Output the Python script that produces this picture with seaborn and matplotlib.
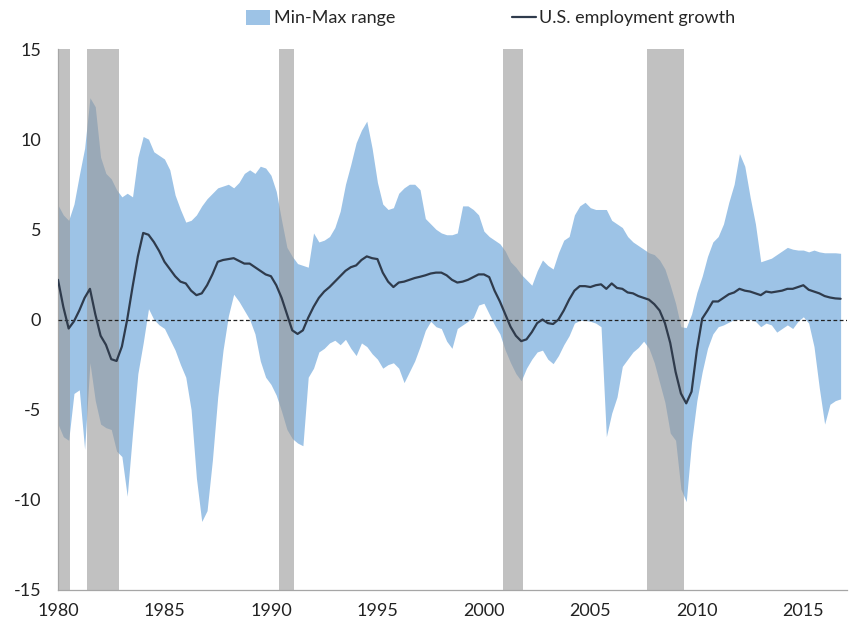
import numpy as np
import pandas as pd
import matplotlib
matplotlib.use("Agg")
import matplotlib.pyplot as plt
from matplotlib.patches import Patch
from matplotlib.lines import Line2D
from matplotlib.ticker import MultipleLocator
import seaborn as sns

# --------------------------
# Quarterly data, 1980Q1 - 2016Q4 (one row per year)
# --------------------------
us_growth = [
    2.2, 0.7, -0.5, -0.1,     # 1980
    0.5, 1.2, 1.7, 0.3,       # 1981
    -0.9, -1.4, -2.2, -2.3,   # 1982
    -1.5, 0.0, 1.8, 3.5,      # 1983
    4.8, 4.7, 4.3, 3.8,       # 1984
    3.2, 2.8, 2.4, 2.1,       # 1985
    2.0, 1.6, 1.35, 1.45,     # 1986
    1.9, 2.5, 3.2, 3.3,       # 1987
    3.35, 3.4, 3.25, 3.1,     # 1988
    3.1, 2.9, 2.7, 2.5,       # 1989
    2.4, 1.9, 1.2, 0.3,       # 1990
    -0.6, -0.8, -0.6, 0.1,    # 1991
    0.7, 1.2, 1.55, 1.8,      # 1992
    2.1, 2.4, 2.7, 2.9,       # 1993
    3.0, 3.3, 3.5, 3.4,       # 1994
    3.35, 2.6, 2.1, 1.8,      # 1995
    2.05, 2.1, 2.2, 2.3,      # 1996
    2.37, 2.45, 2.55, 2.6,    # 1997
    2.6, 2.45, 2.2, 2.05,     # 1998
    2.1, 2.2, 2.35, 2.5,      # 1999
    2.5, 2.35, 1.6, 1.0,      # 2000
    0.3, -0.4, -0.9, -1.2,    # 2001
    -1.1, -0.7, -0.2, 0.0,    # 2002
    -0.2, -0.25, 0.0, 0.5,    # 2003
    1.1, 1.6, 1.85, 1.85,     # 2004
    1.8, 1.9, 1.95, 1.7,      # 2005
    2.0, 1.75, 1.7, 1.5,      # 2006
    1.45, 1.3, 1.2, 1.1,      # 2007
    0.85, 0.5, -0.2, -1.3,    # 2008
    -2.9, -4.1, -4.65, -4.0,  # 2009
    -1.7, 0.05, 0.5, 1.0,     # 2010
    1.0, 1.2, 1.4, 1.5,       # 2011
    1.7, 1.6, 1.55, 1.45,     # 2012
    1.35, 1.55, 1.5, 1.55,    # 2013
    1.6, 1.7, 1.7, 1.8,       # 2014
    1.9, 1.65, 1.55, 1.45,    # 2015
    1.3, 1.22, 1.17, 1.15,    # 2016
]

range_max = [
    6.35, 5.8, 5.5, 6.4,      # 1980
    8.0, 9.5, 12.3, 11.8,     # 1981
    9.0, 8.1, 7.8, 7.2,       # 1982
    6.8, 7.0, 6.8, 9.0,       # 1983
    10.15, 10.0, 9.3, 9.1,    # 1984
    8.9, 8.3, 6.9, 6.1,       # 1985
    5.4, 5.5, 5.8, 6.3,       # 1986
    6.7, 7.0, 7.3, 7.4,       # 1987
    7.5, 7.3, 7.6, 8.1,       # 1988
    8.3, 8.1, 8.5, 8.4,       # 1989
    8.0, 7.1, 5.5, 4.0,       # 1990
    3.5, 3.1, 3.0, 2.9,       # 1991
    4.8, 4.3, 4.4, 4.6,       # 1992
    5.1, 6.0, 7.5, 8.6,       # 1993
    9.8, 10.5, 11.0, 9.5,     # 1994
    7.6, 6.4, 6.1, 6.2,       # 1995
    7.0, 7.3, 7.5, 7.5,       # 1996
    7.2, 5.6, 5.3, 5.0,       # 1997
    4.8, 4.7, 4.7, 4.8,       # 1998
    6.3, 6.3, 6.1, 5.8,       # 1999
    4.9, 4.6, 4.4, 4.2,       # 2000
    3.8, 3.2, 2.9, 2.5,       # 2001
    2.2, 1.9, 2.7, 3.3,       # 2002
    3.0, 2.8, 3.7, 4.4,       # 2003
    4.6, 5.8, 6.3, 6.5,       # 2004
    6.2, 6.1, 6.1, 6.1,       # 2005
    5.5, 5.3, 5.1, 4.6,       # 2006
    4.3, 4.1, 3.9, 3.7,       # 2007
    3.6, 3.3, 2.8, 1.9,       # 2008
    0.9, -0.4, -0.45, 0.3,    # 2009
    1.5, 2.4, 3.5, 4.3,       # 2010
    4.6, 5.3, 6.5, 7.5,       # 2011
    9.2, 8.5, 6.8, 5.3,       # 2012
    3.2, 3.3, 3.4, 3.6,       # 2013
    3.8, 4.0, 3.9, 3.85,      # 2014
    3.85, 3.75, 3.85, 3.75,   # 2015
    3.7, 3.7, 3.7, 3.67,      # 2016
]

range_min = [
    -5.8, -6.5, -6.7, -4.1,    # 1980
    -3.9, -7.2, -2.4, -4.5,    # 1981
    -5.8, -6.0, -6.1, -7.3,    # 1982
    -7.6, -9.8, -6.3, -3.0,    # 1983
    -1.3, 0.6, 0.0, -0.3,      # 1984
    -0.5, -1.1, -1.7, -2.5,    # 1985
    -3.2, -5.0, -8.8, -11.2,   # 1986
    -10.6, -7.8, -4.3, -1.7,   # 1987
    0.2, 1.4, 1.0, 0.5,        # 1988
    0.0, -0.8, -2.3, -3.2,     # 1989
    -3.6, -4.2, -5.1, -6.1,    # 1990
    -6.6, -6.85, -7.0, -3.2,   # 1991
    -2.7, -1.8, -1.6, -1.3,    # 1992
    -1.15, -1.4, -1.1, -1.6,   # 1993
    -2.0, -1.3, -1.5, -1.9,    # 1994
    -2.2, -2.7, -2.5, -2.4,    # 1995
    -2.7, -3.5, -2.9, -2.3,    # 1996
    -1.5, -0.6, -0.1, -0.4,    # 1997
    -0.5, -1.2, -1.6, -0.5,    # 1998
    -0.3, -0.1, 0.1, 0.8,      # 1999
    0.9, 0.3, -0.3, -0.8,      # 2000
    -1.7, -2.4, -3.0, -3.4,    # 2001
    -2.7, -2.2, -1.8, -1.7,    # 2002
    -2.2, -2.45, -2.0, -1.4,   # 2003
    -0.9, -0.2, -0.05, -0.05,  # 2004
    -0.1, -0.2, -0.4, -6.5,    # 2005
    -5.2, -4.3, -2.6, -2.2,    # 2006
    -1.8, -1.55, -1.2, -1.6,   # 2007
    -2.4, -3.5, -4.6, -6.3,    # 2008
    -6.7, -9.4, -10.1, -6.8,   # 2009
    -4.5, -2.9, -1.6, -0.8,    # 2010
    -0.4, -0.3, -0.15, 0.0,    # 2011
    0.0, 0.0, 0.0, -0.1,       # 2012
    -0.4, -0.2, -0.3, -0.7,    # 2013
    -0.5, -0.3, -0.5, -0.1,    # 2014
    0.15, -0.2, -1.5, -3.8,    # 2015
    -5.8, -4.7, -4.5, -4.4,    # 2016
]

# recession periods (start, end) in fractional years
recessions = [(1980.0, 1980.55), (1981.35, 1982.85), (1990.4, 1991.1),
              (2000.9, 2001.85), (2007.65, 2009.4)]

quarters = pd.period_range("1980Q1", "2016Q4", freq="Q")
df = pd.DataFrame({
    "date": quarters.year + (quarters.quarter - 1) / 4.0,
    "growth": us_growth,
    "lo": range_min,
    "hi": range_max,
})

# --------------------------
# Plot
# --------------------------
sns.set_style("white")
plt.rcParams["font.family"] = ["Lato", "DejaVu Sans"]
plt.rcParams["axes.unicode_minus"] = False

fig = plt.figure(figsize=(8.54, 6.32), dpi=100)
ax = fig.add_axes([58 / 854, 42 / 632, 789 / 854, 541 / 632])

blue = "#9DC3E6"
line_col = "#2F3B4C"

ax.fill_between(df["date"], df["lo"], df["hi"], color=blue, lw=0, zorder=1)
for start, end in recessions:
    ax.axvspan(start, end, color="#999999", alpha=0.6, lw=0, zorder=2)
ax.axhline(0, color="#222222", lw=0.9, ls=(0, (3, 2)), zorder=3)
sns.lineplot(data=df, x="date", y="growth", ax=ax, color=line_col, lw=1.6,
             zorder=4, legend=False)

ax.set_xlim(1980, 2017.05)
ax.set_ylim(-15, 15)
ax.set_yticks([-15, -10, -5, 0, 5, 10, 15])
ax.xaxis.set_major_locator(MultipleLocator(5))
ax.xaxis.set_minor_locator(MultipleLocator(1))
ax.set_xlabel("")
ax.set_ylabel("")

for side in ["top", "right"]:
    ax.spines[side].set_visible(False)
for side in ["left", "bottom"]:
    ax.spines[side].set_color("#A6A6A6")
    ax.spines[side].set_linewidth(0.9)

ax.tick_params(axis="x", which="both", direction="out", length=5, width=0.9,
               color="#A6A6A6", labelsize=13, pad=4, labelcolor="#222222")
ax.tick_params(axis="y", direction="out", length=7, width=0.9,
               color="#A6A6A6", labelsize=13, pad=5, labelcolor="#222222")

handles = [Patch(facecolor=blue, edgecolor="none", label="Min-Max range"),
           Line2D([], [], color=line_col, lw=1.6, label="U.S. employment growth")]
fig.legend(handles=handles, loc="center", bbox_to_anchor=(491 / 854, 1 - 18 / 632),
           ncol=2, frameon=False, fontsize=13, handlelength=1.3, handleheight=0.9,
           handletextpad=0.2, columnspacing=6.5)

fig.savefig("out.png", dpi=100)
